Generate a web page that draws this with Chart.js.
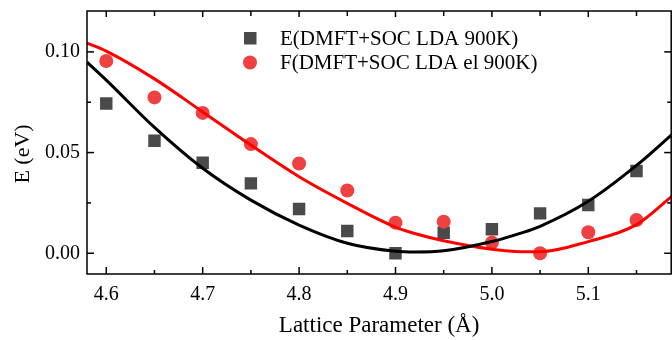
<!DOCTYPE html>
<html>
<head>
<meta charset="utf-8">
<script src="https://cdn.jsdelivr.net/npm/chart.js@4/dist/chart.umd.min.js"></script>
<style>
  html, body { margin: 0; padding: 0; background: #fff; overflow: hidden; }
  #wrap { width: 672px; height: 340px; overflow: hidden; position: relative; }
  canvas { display: block; }
</style>
</head>
<body>
<div id="wrap"><canvas id="c" width="680" height="340"></canvas></div>
<script>
// ---- data ----
const latticeX = [4.60, 4.65, 4.70, 4.75, 4.80, 4.85, 4.90, 4.95, 5.00, 5.05, 5.10, 5.15];
const seriesE = [0.0744, 0.0559, 0.0449, 0.0347, 0.0220, 0.0111, 0.0000, 0.0102, 0.0119, 0.0198, 0.0240, 0.0408];
const seriesF = [0.0955, 0.0774, 0.0697, 0.0542, 0.0446, 0.0312, 0.0152, 0.0157, 0.0053, 0.0000, 0.0104, 0.0165];
const fitX   = [4.58, 4.60, 4.65, 4.70, 4.75, 4.80, 4.85, 4.90, 4.92, 4.95, 5.00, 5.03, 5.05, 5.10, 5.15, 5.188];
const fitE   = [0.0949, 0.0860, 0.0625, 0.0422, 0.0264, 0.0140, 0.0050, 0.0010, 0.0006, 0.0012, 0.0058, 0.0100, 0.0134, 0.0258, 0.0436, 0.0595];
const fitF   = [0.1044, 0.1004, 0.0866, 0.0702, 0.0537, 0.0380, 0.0248, 0.0130, 0.0098, 0.0062, 0.0020, 0.0008, 0.0008, 0.0058, 0.0142, 0.0288];
const xTickLabels = [4.6, 4.7, 4.8, 4.9, 5.0, 5.1];
const xMinorTicks = [4.65, 4.75, 4.85, 4.95, 5.05, 5.15];
const yTickLabels = [0.00, 0.05, 0.10];
const yMinorTicks = [0.025, 0.075];
const legendLabels = ['E(DMFT+SOC LDA 900K)', 'F(DMFT+SOC LDA el 900K)'];
const xTitle = 'Lattice Parameter (\u00C5)';
const yTitle = 'E (eV)';

const SERIF = '"Liberation Serif", "Times New Roman", serif';
const colE = '#4a4a4a';
const colF = '#ef4141';

const pts = (xs, ys) => xs.map((x, i) => ({ x: x, y: ys[i] }));

const framePlugin = {
  id: 'frame',
  afterDatasetsDraw(chart) {
    const { ctx, chartArea: a, scales: { x, y } } = chart;
    ctx.save();
    ctx.strokeStyle = '#000';
    ctx.lineWidth = 1.5;
    ctx.strokeRect(a.left, a.top, a.right - a.left, a.bottom - a.top);
    const seg = (x1, y1, x2, y2) => { ctx.beginPath(); ctx.moveTo(x1, y1); ctx.lineTo(x2, y2); ctx.stroke(); };
    xTickLabels.forEach(v => { const p = x.getPixelForValue(v); seg(p, a.bottom, p, a.bottom - 7); seg(p, a.top, p, a.top + 6); });
    xMinorTicks.forEach(v => { const p = x.getPixelForValue(v); seg(p, a.bottom, p, a.bottom - 4); seg(p, a.top, p, a.top + 5); });
    yTickLabels.forEach(v => { const p = y.getPixelForValue(v); seg(a.left, p, a.left + 7, p); seg(a.right, p, a.right - 7, p); });
    yMinorTicks.forEach(v => { const p = y.getPixelForValue(v); seg(a.left, p, a.left + 4, p); seg(a.right, p, a.right - 4, p); });
    ctx.restore();
  },
  afterDraw(chart) {
    const { ctx } = chart;
    ctx.save();
    // legend
    ctx.fillStyle = colE;
    ctx.fillRect(244, 32, 12.5, 12.5);
    ctx.fillStyle = colF;
    ctx.beginPath(); ctx.arc(250, 62.5, 7, 0, Math.PI * 2); ctx.fill();
    ctx.fillStyle = '#000';
    ctx.font = '21px ' + SERIF;
    ctx.textBaseline = 'middle';
    ctx.textAlign = 'left';
    ctx.fillText(legendLabels[0], 280, 39);
    ctx.fillText(legendLabels[1], 280, 63.5);
    // y title
    ctx.translate(23, 154);
    ctx.rotate(-Math.PI / 2);
    ctx.textAlign = 'center';
    ctx.font = '22px ' + SERIF;
    ctx.fillText(yTitle, 0, 0);
    ctx.restore();
  }
};

new Chart(document.getElementById('c'), {
  type: 'scatter',
  data: {
    datasets: [
      { label: 'E fit', data: pts(fitX, fitE), showLine: true, borderColor: '#000', borderWidth: 3,
        pointRadius: 0, cubicInterpolationMode: 'monotone', order: 0 },
      { label: 'F fit', data: pts(fitX, fitF), showLine: true, borderColor: '#ff0000', borderWidth: 3,
        pointRadius: 0, cubicInterpolationMode: 'monotone', order: 0 },
      { label: legendLabels[0], data: pts(latticeX, seriesE), pointStyle: 'rect', pointRadius: 8.8,
        backgroundColor: colE, borderWidth: 0, order: 2 },
      { label: legendLabels[1], data: pts(latticeX, seriesF), pointStyle: 'circle', pointRadius: 7,
        backgroundColor: colF, borderWidth: 0, order: 1 }
    ]
  },
  options: {
    responsive: false,
    animation: false,
    devicePixelRatio: 1,
    layout: { padding: { top: 11, right: 3, bottom: 0, left: 0 } },
    plugins: { legend: { display: false }, tooltip: { enabled: false } },
    scales: {
      x: {
        type: 'linear', min: 4.58, max: 5.186,
        afterBuildTicks: s => { s.ticks = xTickLabels.map(v => ({ value: v })); },
        afterFit: s => { s.height = 66; s.paddingLeft = 0; s.paddingRight = 0; },
        grid: { display: false, drawTicks: false },
        border: { display: false },
        ticks: { color: '#000', font: { family: SERIF, size: 20 }, padding: 9, maxRotation: 0,
          callback: v => Number(v).toFixed(1) },
        title: { display: true, text: xTitle, color: '#000', font: { family: SERIF, size: 23 }, padding: { top: 1, bottom: 0 } }
      },
      y: {
        type: 'linear', min: -0.0103, max: 0.1203,
        afterBuildTicks: s => { s.ticks = yTickLabels.map(v => ({ value: v })); },
        afterFit: s => { s.width = 87; s.paddingTop = 0; s.paddingBottom = 0; },
        grid: { display: false, drawTicks: false },
        border: { display: false },
        ticks: { color: '#000', font: { family: SERIF, size: 20 }, padding: 7,
          callback: v => Number(v).toFixed(2) },
        title: { display: false }
      }
    }
  },
  plugins: [framePlugin]
});
</script>
</body>
</html>
